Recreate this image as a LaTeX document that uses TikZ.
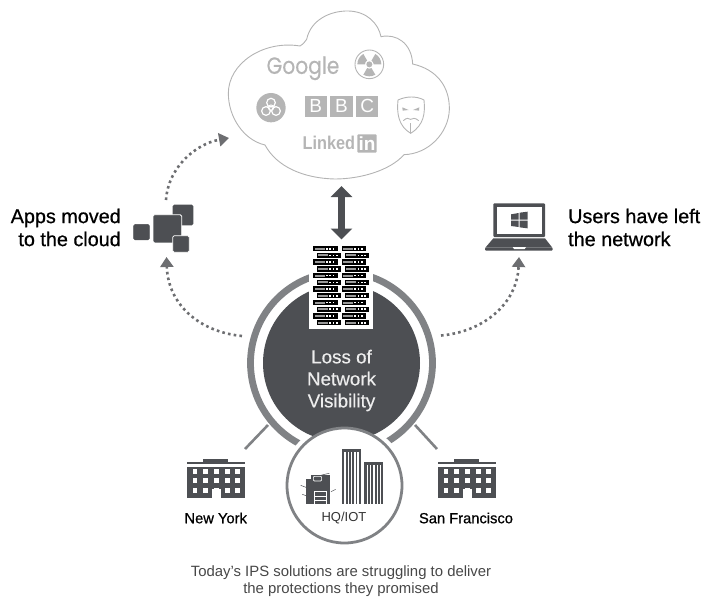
\documentclass[tikz,border=0pt]{standalone}
\usepackage{fontspec}
\setmainfont{Liberation Sans}
\newfontfamily\geo[FakeBold=0.3]{Poppins}
\newfontfamily\med[FakeBold=0.7]{Liberation Sans}
\newfontfamily\semi[FakeBold=0.3]{Liberation Sans}
\usetikzlibrary{arrows.meta}
\definecolor{darkc}{HTML}{4D4F53}
\definecolor{ringc}{HTML}{808285}
\definecolor{dotc}{HTML}{6D6E71}
\definecolor{cloudc}{HTML}{B3B3B3}
\definecolor{logoc}{HTML}{B5B5B5}
\tikzset{
  dotarrow/.style={draw=dotc,line width=2.6pt,dash pattern=on 2.6pt off 3.2pt,-{Triangle[length=10pt,width=13pt,fill=dotc]}},
  biglabel/.style={font=\med\fontsize{19.8}{23}\selectfont,text=black},
  sitelabel/.style={font=\med\fontsize{14.7}{16}\selectfont,text=black},
  zoomed/.style={x=.33333pt,y=-.33333pt},
}
\newcommand{\buildingicon}{%
  \fill[darkc] (100,148) rectangle (175,156);
  \fill[darkc] (52,156) rectangle (224,162);
  \fill[darkc] (52,170) rectangle (224,265);
  \foreach \wx in {68,100,132,165,196}{\foreach \wy in {177,205,234}{\fill[white] (\wx,\wy) rectangle +(14,14);}}
  \fill[white] (125,238) rectangle (152,266);
}
\newcommand{\servercell}[2]{%
  \fill[black] (#1,#2-8) rectangle +(73,16);
  \fill[black!40] (#1+4,#2-3) rectangle +(30,6);
  \fill[white] (#1+38,#2-2.5) rectangle +(4.5,5);
  \fill[white] (#1+48,#2-2.5) rectangle +(4.5,5);
  \fill[white] (#1+58,#2-2.5) rectangle +(4.5,5);
}
\begin{document}
\begin{tikzpicture}[x=1pt,y=-1pt]
\useasboundingbox (0,0) rectangle (716,597);
% ---------- cloud and logos
\begin{scope}[shift={(220,0)},zoomed]
  \draw[cloudc,line width=.9pt] (240,138) .. controls (250,132) and (255,125) .. (260,118)
    .. controls (272,60) and (330,32) .. (385,33)
    .. controls (440,34) and (475,70) .. (483,110)
    .. controls (530,100) and (575,130) .. (578,192)
    .. controls (650,208) and (690,260) .. (688,330)
    .. controls (685,400) and (625,462) .. (552,464)
    .. controls (510,512) and (420,537) .. (345,537)
    .. controls (250,535) and (170,500) .. (135,435)
    .. controls (70,420) and (25,350) .. (25,280)
    .. controls (25,190) and (130,120) .. (240,138);
  \node[text=logoc,font=\geo\fontsize{23.5}{28}\selectfont,xscale=.86,transform shape] (google) at (249,205) {Google};
  % radiation
  \draw[logoc,line width=.9pt] (448,193) circle[radius=43];
  \fill[logoc] (448,193) circle[radius=9];
  \begin{scope}[shift={(448,193)}]
    \foreach \ang in {90,-30,-150}{
      \fill[logoc] (\ang-30:13) -- (\ang-30:36) arc[start angle=\ang-30,end angle=\ang+30,radius=36] -- (\ang+30:13) arc[start angle=\ang+30,end angle=\ang-30,radius=13] -- cycle;
    }
  \end{scope}
  % biohazard
  \fill[logoc] (153,323) circle[radius=44];
  \draw[white,line width=1.2pt] (153,308) circle[radius=13] (138,333) circle[radius=13] (168,333) circle[radius=13];
  \draw[white,line width=1pt] (153,323) circle[radius=8];
  % BBC
  \foreach \bx/\bl/\bn in {254/B/bbca,331/B/bbcb,408/C/bbcc}{
    \fill[logoc] (\bx,287) rectangle +(67,63);
    \node[text=white,font=\fontsize{19}{20}\selectfont] (\bn) at (\bx+33.5,318.5) {\bl};
  }
  % mask
  \draw[logoc,line width=.9pt] (534,300) .. controls (560,288) and (590,288) .. (612,300)
     .. controls (616,340) and (612,375) .. (572,400) .. controls (535,378) and (530,340) .. (534,300) -- cycle;
  \fill[logoc] (547,322) -- (566,330) -- (548,332) -- cycle (598,322) -- (579,330) -- (597,332) -- cycle;
  \draw[logoc,line width=.9pt] (550,362) .. controls (560,352) and (566,355) .. (572,358) .. controls (578,355) and (585,352) .. (596,362);
  \draw[logoc,line width=1pt] (572,370) -- (572,398);
  % linkedin
  \node[text=logoc,anchor=east,inner xsep=0pt,font=\bfseries\fontsize{18.5}{22}\selectfont,xscale=.88,transform shape] (linked) at (406,430) {Linked};
  \fill[logoc,rounded corners=1pt] (412,403) rectangle (470,458);
  \node[text=white,font=\bfseries\fontsize{19}{20}\selectfont] (linkedin) at (441,431) {in};
\end{scope}
% ---------- centre rings
\coordinate (ringc) at (341.5,363);
\coordinate (hq) at (344.5,485.5);
\draw[ringc,line width=6.8pt] (ringc) circle[radius=91];
\coordinate (lineNYa) at (268,425); \coordinate (lineNYb) at (245,449);
\coordinate (lineSFa) at (415,425); \coordinate (lineSFb) at (437,449);
\draw[ringc,line width=2.6pt] (lineNYa) -- (lineNYb);
\draw[ringc,line width=2.6pt] (lineSFa) -- (lineSFb);
\fill[white] (hq) circle[radius=63];
\fill[darkc] (ringc) circle[radius=78.5];
\draw[ringc,line width=2.8pt,fill=white] (hq) circle[radius=57.5];
\node[text=white!93!black,align=center,font=\semi\fontsize{18.8}{22}\selectfont] (loss) at (341.5,380.5) {Loss of\\Network\\Visibility};
% ---------- server rack
\fill[white] (309,245) rectangle (373,329);
\begin{scope}[shift={(230,200)},zoomed]
  \foreach \r in {0,2,4,6,8,10}{
    \pgfmathsetmacro{\ya}{146+20.2*\r}
    \pgfmathsetmacro{\yb}{146+20.2*(\r+1)}
    \servercell{250}{\ya}
    \servercell{335}{\ya}
    \servercell{260}{\yb}
    \servercell{345}{\yb}
  }
\end{scope}
% ---------- double arrow
\coordinate (arrowtop) at (341.5,186);
\coordinate (arrowbot) at (341.5,239.5);
\draw[{Triangle[length=11pt,width=21pt]}-{Triangle[length=11pt,width=21pt]},line width=7pt,draw=darkc,fill=darkc] (arrowtop) -- (arrowbot);
% ---------- dotted arrows
\coordinate (dotAa) at (166,200); \coordinate (dotAb) at (229,138);
\coordinate (dotBa) at (242,336); \coordinate (dotBb) at (166.5,257);
\coordinate (dotCa) at (441,335.5); \coordinate (dotCb) at (519,257);
\draw[dotarrow] (dotAa) .. controls (168,168) and (195,144) .. (dotAb);
\draw[dotarrow] (dotBa) .. controls (200,332) and (168,305) .. (dotBb);
\draw[dotarrow] (dotCa) .. controls (482,332) and (517,305) .. (dotCb);
% ---------- apps icon
\begin{scope}[shift={(120,120)},zoomed]
  \fill[darkc,rounded corners=1.5pt] (158,254) rectangle (220,316);
  \draw[darkc,fill=darkc,rounded corners=1.5pt] (41,313) rectangle (88,360);
  \draw[white,line width=.8pt,fill=darkc,rounded corners=1.5pt] (99,284) rectangle (185,369);
  \draw[white,line width=.8pt,fill=darkc,rounded corners=1.5pt] (158,347) rectangle (208,397);
\end{scope}
% ---------- laptop
\begin{scope}[shift={(430,190)},zoomed]
  \fill[darkc,rounded corners=1pt] (190,40) rectangle (345,141);
  \fill[white] (200,50) rectangle (335,132);
  \fill[darkc] (190,145) -- (345,145) -- (367,173) -- (166,173) -- cycle;
  \fill[darkc,rounded corners=1pt] (165,173) rectangle (368,182);
  \fill[white] (248,171) -- (288,171) -- (284,177) -- (252,177) -- cycle;
  \fill[darkc] (243,73) -- (266,69) -- (266,89) -- (243,89) -- cycle
     (269,68) -- (293,65) -- (293,89) -- (269,89) -- cycle
     (243,92) -- (266,92) -- (266,111) -- (243,108) -- cycle
     (269,92) -- (293,92) -- (293,115) -- (269,112) -- cycle;
\end{scope}
% ---------- buildings
\begin{scope}[shift={(170,410)},zoomed]
  \buildingicon
\end{scope}
\begin{scope}[shift={(421,410)},zoomed]
  \buildingicon
\end{scope}
% ---------- HQ icons
\begin{scope}[shift={(170,410)},zoomed]
  \fill[darkc] (516,118) rectangle (573,282);
  \fill[darkc] (583,157) rectangle (639,282);
  \foreach \sx in {525,535,545,555,564}{\draw[white,line width=1.1pt] (\sx,126) -- (\sx,282);}
  \foreach \sx in {592,602,612,622,631}{\draw[white,line width=1.1pt] (\sx,165) -- (\sx,282);}
  % printer
  \fill[darkc] (408,207) rectangle (422,282);
  \fill[darkc] (424,194) rectangle (480,282);
  \draw[white,line width=.6pt,rounded corners=1pt] (430,199) rectangle (455,213);
  \draw[white,line width=.7pt] (434,245) rectangle (470,282) (434,258) -- (470,258) (434,270) -- (470,270);
  \draw[darkc,line width=.5pt] (392,226) -- (408,232) (397,253) -- (408,257) (483,245) -- (497,238) (455,195) -- (478,190);
\end{scope}
% ---------- labels
\node[biglabel,align=right,anchor=east,inner xsep=0pt] (apps) at (121,227.5) {Apps moved\\to the cloud};
\node[biglabel,align=left,anchor=west,inner xsep=0pt] (users) at (568,227.5) {Users have left\\the network};
\node[sitelabel] (ny) at (215.7,518) {New York};
\node[sitelabel] (sf) at (466,518) {San Francisco};
\node[font=\fontsize{13}{16}\selectfont,text=black!80] (hql) at (344,518) {HQ/IOT};
\node[align=center,font=\fontsize{14.9}{17}\selectfont,text=black!72] (foot) at (341,581) {Today's IPS solutions are struggling to deliver\\the protections they promised};
\end{tikzpicture}
\end{document}
